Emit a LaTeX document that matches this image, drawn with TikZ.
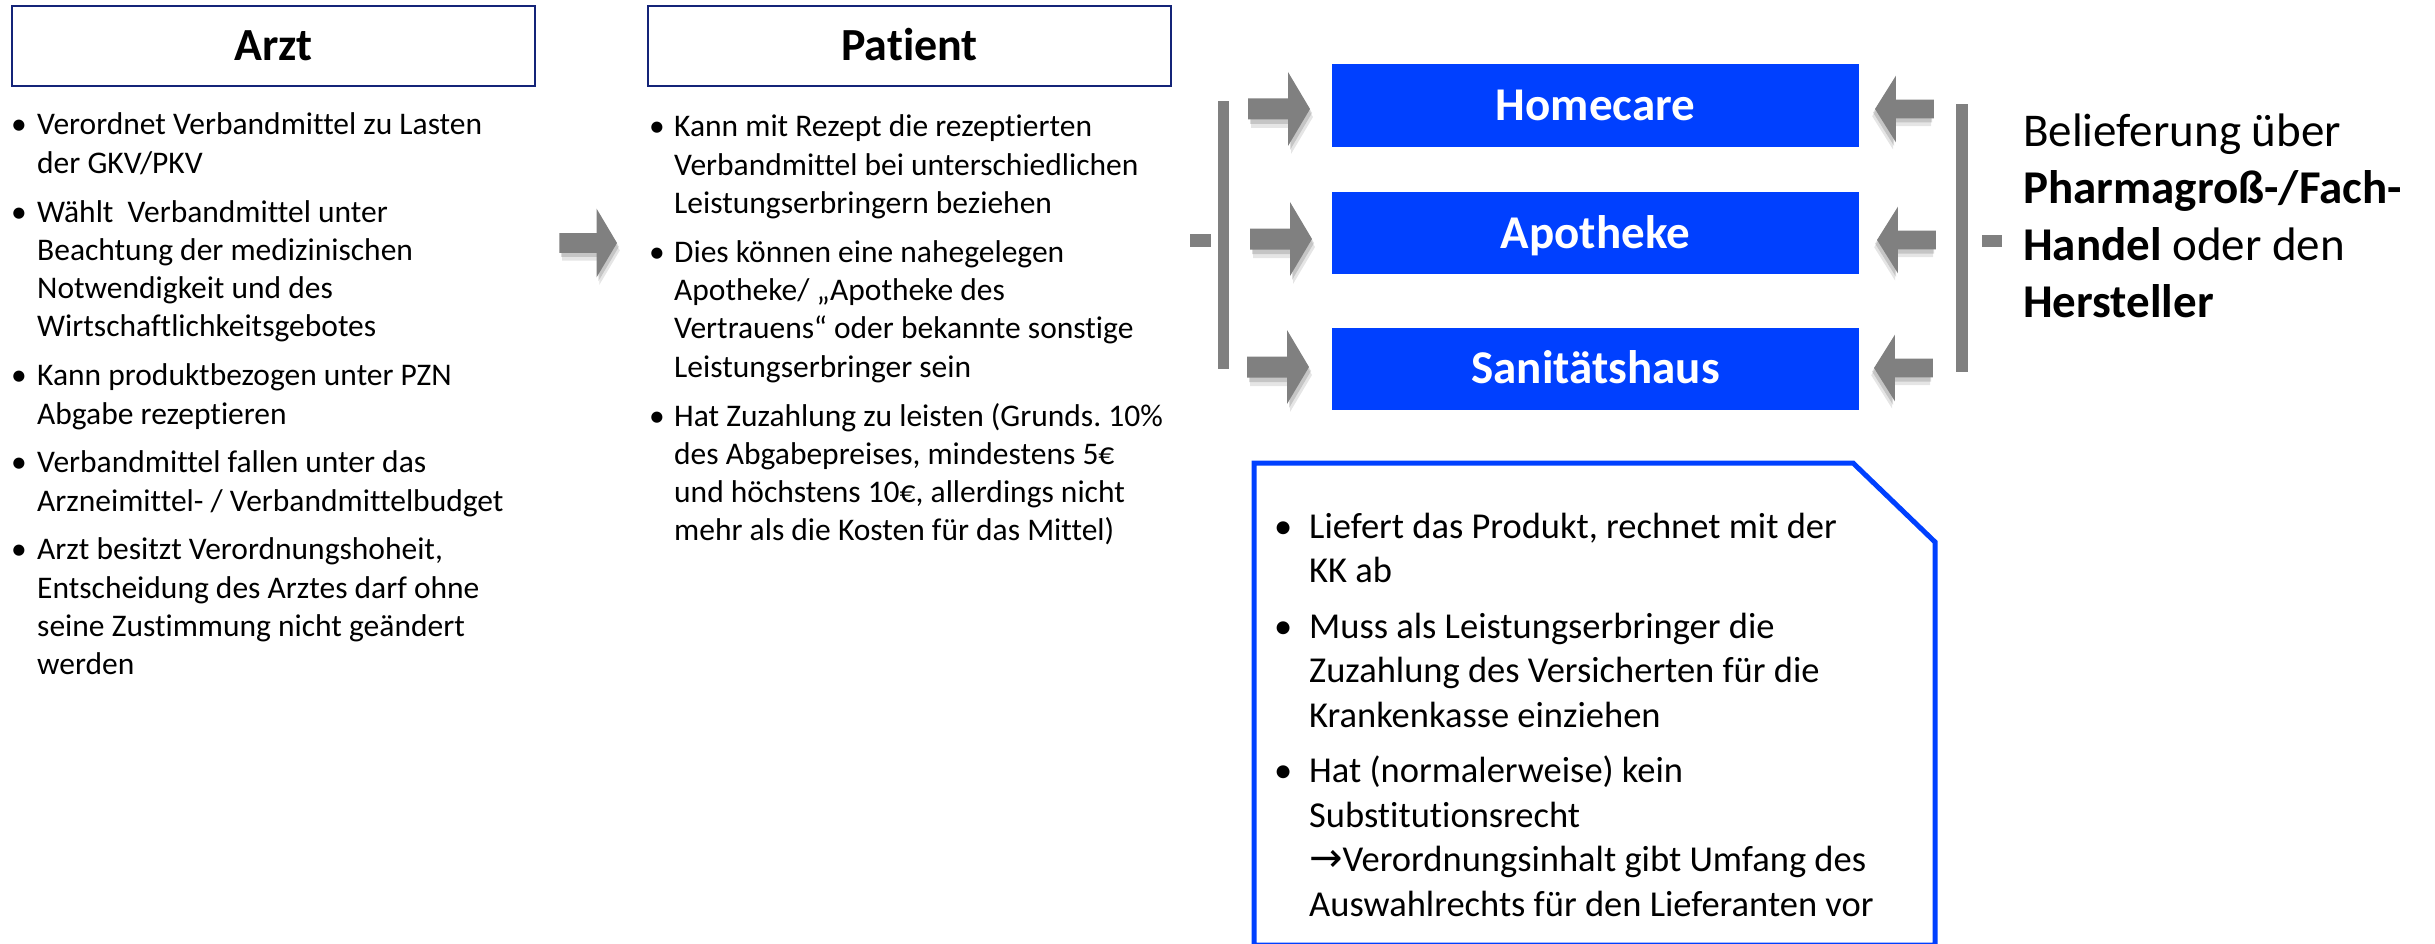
\documentclass[tikz,border=0pt]{standalone}
\usepackage{fontspec}
\setmainfont{Carlito}[Ligatures={TeX,NoCommon}]
\newfontfamily\arrowfont{DejaVu Sans}
\usepackage{tikz}
\usetikzlibrary{positioning}
\frenchspacing

\definecolor{navyline}{RGB}{20,36,120}
\definecolor{boxblue}{RGB}{0,64,255}
\definecolor{arrowgray}{RGB}{128,128,128}

\newcommand{\bpoint}[2]{\par\hangindent=#1\hangafter=1\noindent\makebox[#1][l]{\textbullet}#2\par}

\tikzset{
  titlebox/.style={draw=navyline, line width=2.5pt, minimum width=523pt, minimum height=80pt,
    inner sep=0pt, font=\fontsize{46}{55}\selectfont\bfseries, text height=29pt, text depth=0pt},
  bluebox/.style={fill=boxblue, minimum width=527pt, minimum height=82pt, inner sep=0pt,
    text=white, font=\fontsize{47}{56}\selectfont\bfseries, text height=30pt, text depth=0pt},
  textcol/.style={anchor=base west, inner sep=0pt},
  pics/blockarr/.style={code={
    \fill[black, opacity=.10] (3,8) -- (-19,-29) -- (-19,-2) -- (-59,-2) -- (-59,19) -- (-19,19) -- (-19,45) -- cycle;
    \fill[black, opacity=.14] (2,4) -- (-20,-33) -- (-20,-6) -- (-60,-6) -- (-60,15) -- (-20,15) -- (-20,41) -- cycle;
    \fill[arrowgray] (0,0) -- (-22,-37) -- (-22,-10.5) -- (-62,-10.5) -- (-62,10.5) -- (-22,10.5) -- (-22,37) -- cycle;
  }},
}

\begin{document}
\begin{tikzpicture}[x=1pt, y=-1pt]
  \useasboundingbox (0,0) rectangle (2435,944);

  % columns
  \node[titlebox] (arzt) at (273.5,46) {Arzt};
  \node[titlebox] (patient) at (909.5,46) {Patient};

  \node[textcol] (arzttext) at (11,135) {\parbox[t]{540pt}{\fontsize{31.5}{38.3}\selectfont\parskip=10.5pt
    \bpoint{26pt}{Verordnet Verbandmittel zu Lasten\\der GKV/PKV}
    \bpoint{26pt}{Wählt\ \ Verbandmittel unter\\Beachtung der medizinischen\\Notwendigkeit und des\\Wirtschaftlichkeitsgebotes}
    \bpoint{26pt}{Kann produktbezogen unter PZN\\Abgabe rezeptieren}
    \bpoint{26pt}{Verbandmittel fallen unter das\\Arzneimittel- / Verbandmittelbudget}
    \bpoint{26pt}{Arzt besitzt Verordnungshoheit,\\Entscheidung des Arztes darf ohne\\seine Zustimmung nicht geändert\\werden}}};

  \node[textcol] (patienttext) at (649,137) {\parbox[t]{540pt}{\fontsize{31.5}{38.3}\selectfont\parskip=10.5pt
    \bpoint{25pt}{Kann mit Rezept die rezeptierten\\Verbandmittel bei unterschiedlichen\\Leistungserbringern beziehen}
    \bpoint{25pt}{Dies können eine nahegelegen\\Apotheke/ „Apotheke des\\Vertrauens“ oder bekannte sonstige\\Leistungserbringer sein}
    \bpoint{25pt}{Hat Zuzahlung zu leisten (Grunds. 10\%\\des Abgabepreises, mindestens 5€\\und höchstens 10€, allerdings nicht\\mehr als die Kosten für das Mittel)}}};

  \pic[scale=.93] at (617,243) {blockarr};

  % Leistungserbringer
  \node[bluebox, minimum height=83pt] (home) at (1595.5,105.5) {Homecare};
  \node[bluebox, below=45pt of home] (apo) {Apotheke};
  \node[bluebox, below=53pt of apo] (sani) {Sanitätshaus};

  \fill[arrowgray] (1218,101) rectangle (1229,369);
  \fill[arrowgray] (1190,234) rectangle (1211,247);
  \pic at (1310,109) {blockarr};
  \pic at (1312,239) {blockarr};
  \pic at (1309,367) {blockarr};

  \pic[xscale=-.95, yscale=.9] at (1875,109) {blockarr};
  \pic[xscale=-.95, yscale=.9] at (1877,240) {blockarr};
  \pic[xscale=-.95, yscale=.9] at (1874,368) {blockarr};
  \fill[arrowgray] (1956,104) rectangle (1968,372);
  \fill[arrowgray] (1982,235) rectangle (2002,247);

  \node[textcol] (liefer) at (2023,147) {\parbox[t]{420pt}{\fontsize{47}{57}\selectfont
    Belieferung über\\\textbf{Pharmagroß-/Fach-}\\\textbf{Handel} oder den\\\textbf{Hersteller}}};

  % Aufgaben
  \draw[boxblue, line width=5pt, line join=miter] (1254,945) -- (1254,463) -- (1853,463) -- (1935,542) -- (1935,945) -- cycle;
  \node[textcol] (aufgaben) at (1274,538) {\parbox[t]{640pt}{\fontsize{36.5}{44.5}\selectfont\parskip=11pt
    \bpoint{35pt}{Liefert das Produkt, rechnet mit der\\KK ab}
    \bpoint{35pt}{Muss als Leistungserbringer die\\Zuzahlung des Versicherten für die\\Krankenkasse einziehen}
    \bpoint{35pt}{Hat (normalerweise) kein\\Substitutionsrecht\\{\arrowfont\fontsize{40}{44.5}\selectfont →}Verordnungsinhalt gibt Umfang des\\Auswahlrechts für den Lieferanten vor}}};

\end{tikzpicture}
\end{document}
